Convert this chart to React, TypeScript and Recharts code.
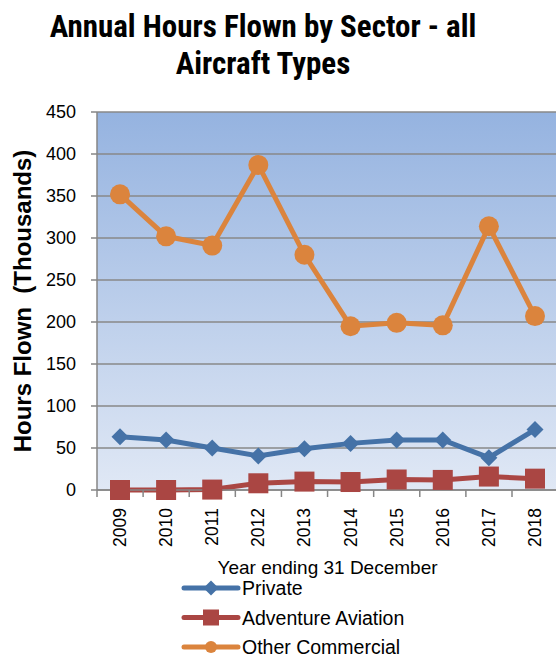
import { CartesianGrid, Label, Line, LineChart, XAxis, YAxis } from 'recharts'

const years = ['2009', '2010', '2011', '2012', '2013', '2014', '2015', '2016', '2017', '2018']
const privateHours = [63.5, 59.5, 50, 40.5, 49, 55.5, 59.5, 59.5, 38.5, 72]
const adventureHours = [0, 0, 0.5, 8, 10, 9.5, 12.5, 12, 16, 13.5]
const otherCommercialHours = [352, 302, 291, 387, 280, 195, 199, 196, 314, 207]
const yTicks = [0, 50, 100, 150, 200, 250, 300, 350, 400, 450]

const data = years.map((year, i) => ({
  year,
  private: privateHours[i],
  adventure: adventureHours[i],
  other: otherCommercialHours[i],
}))

const NARROW = "'Liberation Sans Narrow', 'Roboto Condensed', 'Liberation Sans', sans-serif"
const FONT = "'Liberation Sans', Arial, sans-serif"
const BLUE = '#4572a7'
const RED = '#aa4643'
const ORANGE = '#db843d'
const HALF_BAND = 23

function YearTick({ x, y, payload, index }: any) {
  return (
    <g>
      <line x1={x - HALF_BAND} y1={y - 8} x2={x - HALF_BAND} y2={y - 1} stroke="#868686" strokeWidth={1.5} />
      {index === years.length - 1 && (
        <line x1={x + HALF_BAND} y1={y - 8} x2={x + HALF_BAND} y2={y - 1} stroke="#868686" strokeWidth={1.5} />
      )}
      <text x={x} y={y} transform={`rotate(-90 ${x} ${y})`} dx={-10} dy={6} textAnchor="end" fontSize={17.5} fill="#000" fontFamily={FONT}>
        {payload.value}
      </text>
    </g>
  )
}

function Diamond({ cx, cy }: any) {
  const r = 8.5
  return <path d={`M${cx},${cy - r}L${cx + r},${cy}L${cx},${cy + r}L${cx - r},${cy}Z`} fill={BLUE} />
}

function Square({ cx, cy }: any) {
  const s = 10
  return <rect x={cx - s} y={cy - s} width={s * 2} height={s * 2} fill={RED} />
}

function Dot({ cx, cy }: any) {
  return <circle cx={cx} cy={cy} r={10} fill={ORANGE} />
}

const legendItems = [
  { label: 'Private', color: BLUE, marker: 'diamond' },
  { label: 'Adventure Aviation', color: RED, marker: 'square' },
  { label: 'Other Commercial', color: ORANGE, marker: 'circle' },
]

export default function App() {
  return (
    <div style={{ position: 'absolute', left: 0, top: 0, width: 556, height: 657, overflow: 'hidden', background: '#fff', fontFamily: FONT }}>
      <div style={{ position: 'absolute', left: 0, top: 8, width: 526, textAlign: 'center', fontSize: 31, fontWeight: 'bold', lineHeight: '37px', color: '#000', fontFamily: NARROW }}>
        Annual Hours Flown by Sector - all
        <br />
        Aircraft Types
      </div>
      <LineChart width={558} height={657} data={data} margin={{ top: 112, right: 0, bottom: 0, left: 0 }} style={{ position: 'absolute', left: 0, top: 0 }}>
        <defs>
          <linearGradient id="plotBg" x1="0" y1="0" x2="0" y2="1">
            <stop offset="0%" stopColor="#95b3e0" />
            <stop offset="100%" stopColor="#e0e8f5" />
          </linearGradient>
        </defs>
        <CartesianGrid vertical={false} stroke="#888" strokeWidth={1.5} fill="url(#plotBg)" fillOpacity={1} />
        <XAxis
          dataKey="year"
          height={167}
          interval={0}
          padding={{ left: HALF_BAND, right: HALF_BAND }}
          axisLine={{ stroke: '#868686', strokeWidth: 1.5 }}
          tickLine={false}
          tick={<YearTick />}
        >
          <Label value="Year ending 31 December" position="insideTop" offset={71} dx={0} fontSize={19} fill="#000" fontFamily={FONT} />
        </XAxis>
        <YAxis
          width={97}
          domain={[0, 450]}
          ticks={yTicks}
          interval={0}
          axisLine={{ stroke: '#868686', strokeWidth: 1.5 }}
          tickLine={{ stroke: '#868686', strokeWidth: 1.5 }}
          tickSize={6}
          tick={{ fill: '#000', fontSize: 18, fontFamily: FONT }}
          tickMargin={15}
        >
          <Label
            value={'Hours Flown \u00a0(Thousands)'}
            angle={-90}
            position="insideLeft"
            offset={22}
            fontSize={24}
            fontWeight="bold"
            fill="#000"
            fontFamily={FONT}
            style={{ textAnchor: 'middle' }}
          />
        </YAxis>
        <Line dataKey="private" stroke={BLUE} strokeWidth={5} dot={<Diamond />} activeDot={false} isAnimationActive={false} />
        <Line dataKey="adventure" stroke={RED} strokeWidth={5} dot={<Square />} activeDot={false} isAnimationActive={false} />
        <Line dataKey="other" stroke={ORANGE} strokeWidth={5} dot={<Dot />} activeDot={false} isAnimationActive={false} />
      </LineChart>
      <svg width={556} height={657} style={{ position: 'absolute', left: 0, top: 0, pointerEvents: 'none' }}>
        {legendItems.map((item, i) => {
          const y = 588 + i * 29.5
          return (
            <g key={item.label}>
              <line x1={184} y1={y} x2={238} y2={y} stroke={item.color} strokeWidth={5} strokeLinecap="round" />
              {item.marker === 'diamond' && <path d={`M211,${y - 7.5}L218.5,${y}L211,${y + 7.5}L203.5,${y}Z`} fill={item.color} />}
              {item.marker === 'square' && <rect x={203} y={y - 8} width={16} height={16} fill={item.color} />}
              {item.marker === 'circle' && <circle cx={211} cy={y} r={6} fill={item.color} />}
              <text x={242} y={y + 7} fontSize={19.5} fill="#000" fontFamily={FONT}>
                {item.label}
              </text>
            </g>
          )
        })}
      </svg>
    </div>
  )
}
